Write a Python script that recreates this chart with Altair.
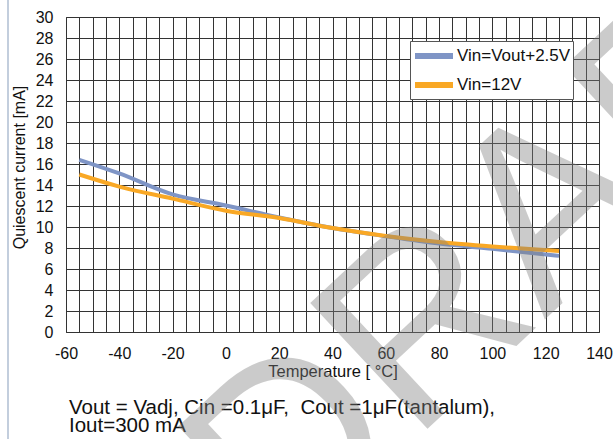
import altair as alt
import pandas as pd

temps = [-55, -40, -20, 0, 20, 40, 60, 80, 100, 125]
blue_vals = [16.4, 15.1, 13.1, 12.05, 10.9, 9.9, 9.12, 8.42, 7.92, 7.25]
orange_vals = [15.0, 13.85, 12.7, 11.55, 10.85, 9.9, 9.15, 8.58, 8.15, 7.71]
series_names = ["Vin=Vout+2.5V", "Vin=12V"]
series_colors = ["#7f95c6", "#f9a825"]
x_ticks = list(range(-60, 141, 5))
y_ticks = list(range(0, 31, 2))
footnote = "Vout = Vadj, Cin =0.1μF,\u00a0 Cout =1μF(tantalum),\nIout=300 mA"
watermark = "DRAFT"

rows = []
for t, b, o in zip(temps, blue_vals, orange_vals):
    rows.append({"T": t, "I": b, "s": series_names[0]})
    rows.append({"T": t, "I": o, "s": series_names[1]})
df = pd.DataFrame(rows)

FONT = "Liberation Sans"
GRID = "#333333"

x_enc = alt.X("T:Q", scale=alt.Scale(domain=[-60, 140], nice=False),
              axis=alt.Axis(values=x_ticks, title="Temperature [ °C]",
                            labelExpr="datum.value % 20 == 0 ? '' + datum.value : ''",
                            ticks=False, domain=False, grid=True, gridColor=GRID,
                            gridOpacity=1, gridWidth=1, labelFont=FONT, labelFontSize=16,
                            labelColor="#111", labelPadding=13, labelFlush=False,
                            titleFont=FONT, titleFontSize=16.5, titleFontWeight="normal",
                            titleColor="#111", titlePadding=2))
y_enc = alt.Y("I:Q", scale=alt.Scale(domain=[0, 30], nice=False),
              axis=alt.Axis(values=y_ticks, title="Quiescent current [mA]",
                            ticks=False, domain=False, grid=True, gridColor=GRID,
                            gridOpacity=1, gridWidth=1, labelFont=FONT, labelFontSize=16,
                            labelColor="#111", labelPadding=13,
                            titleFont=FONT, titleFontSize=16, titleFontWeight="normal",
                            titleColor="#111", titlePadding=8, titleY=150))

lines = alt.Chart(df).mark_line(strokeWidth=4, interpolate="monotone").encode(
    x=x_enc, y=y_enc,
    color=alt.Color("s:N", scale=alt.Scale(domain=series_names, range=series_colors),
                    legend=alt.Legend(title=None, orient="none", legendX=344, legendY=24,
                                      symbolType="M-1,0L2.8,0", symbolSize=400,
                                      symbolStrokeWidth=6, labelFont=FONT,
                                      labelFontSize=17, labelColor="#111",
                                      labelOffset=19, rowPadding=4, padding=2,
                                      fillColor="white", strokeColor="#555",
                                      labelLimit=300)),
)

wm = alt.Chart(pd.DataFrame({"t": [watermark]})).mark_text(
    font=FONT, fontSize=250, angle=317, align="center", baseline="middle",
    color="#808080", opacity=0.4,
).encode(text="t:N", x=alt.value(468), y=alt.value(210))

note = alt.Chart(pd.DataFrame({"t": [footnote]})).mark_text(
    font=FONT, fontSize=20.5, align="left", baseline="alphabetic", lineBreak="\n",
    lineHeight=18, color="#111",
).encode(text="t:N", x=alt.value(3), y=alt.value(397))

frame = alt.Chart(pd.DataFrame({"a": [0]})).mark_rule(color="#c3cedd", strokeWidth=2).encode(
    x=alt.value(-58), y=alt.value(-17), y2=alt.value(422))

chart = alt.layer(frame, lines, note, wm).properties(
    width=533, height=315,
    autosize=alt.AutoSizeParams(type="none"),
    padding={"left": 66, "top": 17, "right": 14, "bottom": 107},
    background="white",
).configure_view(stroke=GRID, strokeWidth=1)

chart.save("out.html", embed_options={"renderer": "svg", "actions": False})
